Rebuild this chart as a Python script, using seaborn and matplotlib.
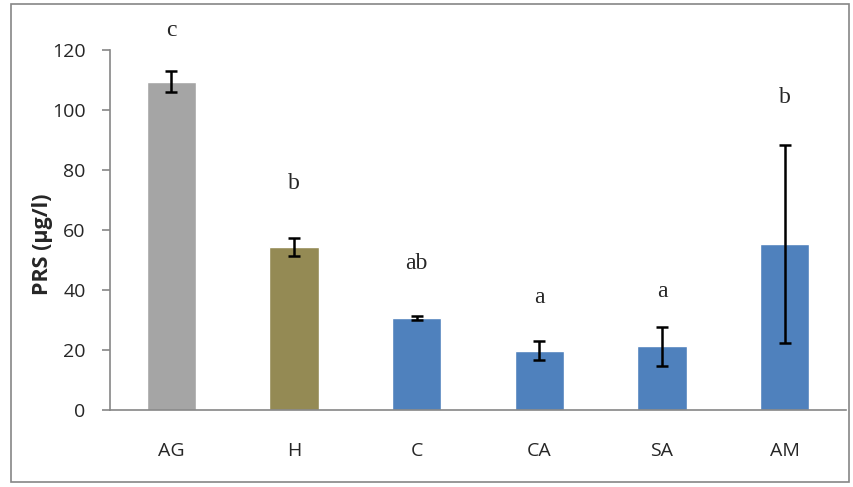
import matplotlib
matplotlib.use("Agg")
import matplotlib.pyplot as plt
from matplotlib.patches import Rectangle
import seaborn as sns
import pandas as pd
import numpy as np

groups = ["AG", "H", "C", "CA", "SA", "AM"]
means = [109.5, 54.5, 30.7, 19.8, 21.2, 55.5]
errors = [3.5, 3.0, 0.8, 3.2, 6.5, 33.0]
letters = ["c", "b", "ab", "a", "a", "b"]
letter_y = [126.5, 75.5, 48.8, 37.5, 39.5, 104.3]
colors = ["#A5A5A5", "#948A54", "#4F81BD", "#4F81BD", "#4F81BD", "#4F81BD"]

df = pd.DataFrame({"group": groups, "PRS": means})

sns.set_style("white")
plt.rcParams["font.family"] = ["Open Sans", "DejaVu Sans"]

fig = plt.figure(figsize=(8.54, 4.87), dpi=100)
ax = fig.add_axes([110 / 854, 77 / 487, 736 / 854, 360 / 487])

sns.barplot(data=df, x="group", y="PRS", hue="group", palette=colors,
            width=0.4, legend=False, ax=ax, saturation=1)

x = np.arange(len(groups))
ax.errorbar(x, means, yerr=errors, fmt="none", ecolor="black",
            elinewidth=1.8, capsize=4.5, capthick=1.8)

for xi, lab, ly in zip(x, letters, letter_y):
    ax.text(xi, ly, lab, ha="center", va="center", fontsize=17,
            family=["Liberation Serif", "DejaVu Serif"])

ax.set_ylim(0, 120)
ax.set_xlim(-0.5, len(groups) - 0.5)
ax.set_yticks(np.arange(0, 121, 20))
ax.set_ylabel("PRS (µg/l)", fontsize=15.5, fontweight="bold")
ax.yaxis.set_label_coords(-0.078, 0.46)
ax.set_xlabel("")

# category labels centred, tick marks on category boundaries
ax.set_xticks(x)
ax.set_xticklabels(groups)
ax.set_xticks(np.arange(-0.5, len(groups)), minor=True)
ax.tick_params(axis="x", which="major", length=0, pad=23, labelsize=14)
ax.tick_params(axis="x", which="minor", length=5.5, width=1.2, color="#868686",
               direction="out")
ax.tick_params(axis="y", length=5.5, width=1.2, color="#868686", direction="out",
               labelsize=14, pad=12, left=True)

for side in ["top", "right"]:
    ax.spines[side].set_visible(False)
for side in ["left", "bottom"]:
    ax.spines[side].set_color("#868686")
    ax.spines[side].set_linewidth(1.2)

fig.patches.append(Rectangle((11 / 854, 5 / 487), 838 / 854, 478 / 487,
                             transform=fig.transFigure, fill=False,
                             edgecolor="#868686", linewidth=1.2))

fig.savefig("out.png", dpi=100)
